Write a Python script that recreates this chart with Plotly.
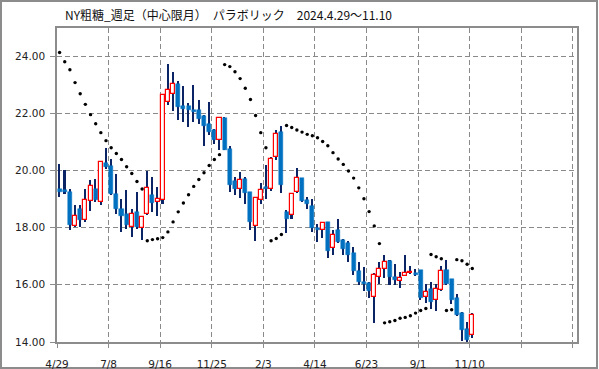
import plotly.graph_objects as go
import pandas as pd

# ---- data (weekly, 2024-04-29 .. 2025-11-10) ----
start_date = "2024-04-29"
opens = [19.36, 19.30, 19.23, 18.07, 18.66, 18.28, 18.94, 19.34, 18.90, 20.25,
         20.14, 19.16, 18.66, 18.49, 18.02, 18.53, 18.00, 18.49, 19.13, 18.90,
         18.95, 22.39, 22.68, 23.01, 22.24, 22.24, 22.10, 22.12, 21.89, 21.61,
         21.40, 21.08, 21.82, 20.76, 19.62, 19.35, 19.69, 19.23, 18.07, 18.98,
         19.42, 19.36, 20.47, 21.34, 18.53, 18.45, 19.25, 19.72, 18.98, 18.74,
         18.00, 17.93, 18.19, 17.30, 17.91, 17.56, 17.45, 17.11, 16.50, 16.10,
         16.08, 15.57, 16.27, 16.57, 16.82, 16.29, 16.13, 16.32, 16.40, 16.43,
         16.51, 15.57, 15.84, 15.48, 15.83, 16.51, 16.19, 15.54, 15.02, 14.47,
         14.26]
highs = [20.24, 20.00, 19.34, 18.79, 18.78, 19.36, 19.65, 19.71, 20.33, 20.78,
         20.41, 19.89, 19.01, 19.30, 18.66, 19.24, 18.40, 19.97, 19.77, 19.42,
         22.68, 23.71, 23.44, 23.13, 22.94, 22.35, 23.00, 22.47, 21.95, 22.39,
         21.45, 21.87, 21.85, 20.85, 19.77, 19.95, 19.77, 19.25, 19.05, 19.57,
         20.18, 20.47, 21.40, 21.55, 18.63, 19.20, 20.10, 19.75, 19.07, 19.00,
         18.11, 18.20, 18.20, 17.91, 18.29, 17.60, 17.53, 17.32, 16.81, 16.62,
         16.10, 16.41, 16.80, 17.03, 16.85, 16.74, 16.45, 17.05, 16.65, 16.54,
         16.52, 16.02, 16.10, 16.04, 16.65, 16.86, 16.20, 15.69, 15.05, 14.70,
         15.02]
lows = [19.07, 19.18, 17.93, 18.02, 18.02, 18.20, 18.58, 18.90, 18.78, 20.05,
        19.15, 18.49, 17.85, 17.96, 17.67, 17.95, 17.55, 18.45, 18.55, 18.41,
        18.84, 22.28, 22.08, 21.75, 21.69, 21.52, 21.69, 21.64, 20.85, 21.25,
        20.94, 20.70, 20.70, 19.25, 19.13, 19.04, 18.84, 17.91, 17.53, 18.84,
        18.99, 19.28, 20.35, 19.21, 17.81, 18.31, 19.20, 18.90, 18.66, 17.85,
        17.50, 17.65, 16.95, 17.04, 17.45, 17.03, 16.80, 16.33, 16.01, 15.78,
        15.54, 14.67, 16.02, 16.25, 16.00, 16.00, 15.90, 16.30, 16.38, 16.30,
        15.46, 15.35, 15.15, 15.08, 15.80, 16.00, 15.34, 14.90, 14.02, 14.00,
        14.15]
closes = [19.25, 19.24, 18.10, 18.39, 18.25, 18.98, 19.44, 18.95, 20.31, 20.12,
          19.17, 18.65, 18.41, 18.08, 18.46, 18.01, 18.38, 19.37, 18.87, 19.01,
          22.65, 22.80, 23.01, 22.22, 22.15, 22.10, 22.03, 21.80, 21.55, 21.34,
          21.08, 21.82, 20.73, 19.50, 19.35, 19.65, 19.21, 18.20, 19.02, 19.33,
          19.36, 20.41, 21.29, 19.50, 18.30, 19.19, 19.72, 18.93, 18.83, 18.00,
          17.93, 18.17, 17.18, 17.75, 17.50, 17.24, 17.03, 16.48, 16.10, 16.02,
          15.78, 16.36, 16.57, 16.81, 16.27, 16.18, 16.25, 16.43, 16.45, 16.33,
          15.54, 15.75, 15.41, 15.87, 16.47, 16.04, 15.48, 14.93, 14.41, 14.06,
          14.96]
sar = [24.12, 23.80, 23.52, 23.07, 22.68, 22.31, 21.95, 21.63, 21.32, 21.04,
       20.79, 20.59, 20.38, 20.13, 19.89, 19.61, 19.35, 17.54, 17.58, 17.61,
       17.65, 17.85, 18.20, 18.55, 18.86, 19.15, 19.44, 19.68, 19.92, 20.17,
       20.38, 20.55, 23.70, 23.63, 23.45, 23.21, 22.87, 22.48, 21.92, 21.32,
       20.79, 17.54, 17.62, 17.76, 21.57, 21.50, 21.41, 21.34, 21.26, 21.21,
       21.14, 21.01, 20.86, 20.62, 20.40, 20.21, 19.98, 19.73, 19.39, 19.01,
       18.56, 18.06, 17.44, 14.67, 14.71, 14.75, 14.83, 14.86, 14.92, 15.01,
       15.10, 15.17, 17.06, 16.98, 16.91, 15.10, 15.13, 16.88, 16.84, 16.72,
       16.57]
tick_labels = ["4/29", "7/8", "9/16", "11/25", "2/3", "4/14", "6/23", "9/1", "11/10", "", ""]
title_text = "NY粗糖_週足（中心限月）　パラボリック　2024.4.29〜11.10"

# ---- build ----
week_starts = pd.date_range(start_date, periods=len(opens), freq="7D")
centers = list(week_starts + pd.Timedelta(hours=84))  # centre of each weekly slot
tick_dates = pd.date_range(start_date, periods=len(tick_labels), freq="70D")
x_end = pd.Timestamp(start_date) + pd.Timedelta(days=7 * 100.8)

WEEK_MS = 7 * 86400000
bar_w = 0.78 * WEEK_MS
wick_w = 0.30 * WEEK_MS

up_x, up_base, up_h = [], [], []
dn_x, dn_base, dn_h = [], [], []
for c, o, cl in zip(centers, opens, closes):
    if cl >= o:
        up_x.append(c); up_base.append(o); up_h.append(max(cl - o, 0.02))
    else:
        dn_x.append(c); dn_base.append(cl); dn_h.append(o - cl)

fig = go.Figure()
fig.add_trace(go.Bar(x=centers, y=[h - l for h, l in zip(highs, lows)], base=lows,
                     width=wick_w, marker=dict(color="#0b2465", line=dict(width=0)),
                     hoverinfo="skip", showlegend=False))
fig.add_trace(go.Bar(x=dn_x, y=dn_h, base=dn_base, width=bar_w,
                     marker=dict(color="#0070C0", line=dict(color="#0070C0", width=0.5)),
                     showlegend=False))
fig.add_trace(go.Bar(x=up_x, y=up_h, base=up_base, width=bar_w,
                     marker=dict(color="white", line=dict(color="#FF0000", width=1.2)),
                     showlegend=False))
fig.add_trace(go.Scatter(x=centers, y=sar, mode="markers",
                         marker=dict(symbol="circle", size=3.4, color="black",
                                     line=dict(width=0)),
                         showlegend=False))

L, R, T, B = 57, 22, 28, 27
W, H = 599, 369
pw, ph = W - L - R, H - T - B

fig.update_layout(
    width=W, height=H,
    margin=dict(l=L, r=R, t=T, b=B, pad=0, autoexpand=False),
    paper_bgcolor="white", plot_bgcolor="white",
    barmode="overlay", bargap=0,
    font=dict(family="DejaVu Sans", size=10.5, color="#222222"),
    xaxis=dict(type="date", range=[pd.Timestamp(start_date), x_end],
               tickvals=list(tick_dates), ticktext=tick_labels, automargin=False,
               showgrid=True, gridcolor="#8a8a8a", griddash="5px,3px", gridwidth=1,
               showline=True, linecolor="#8c8c8c", linewidth=1.5, mirror=True,
               ticks="outside", ticklen=4, tickcolor="#8c8c8c",
               ticklabelstandoff=8, zeroline=False),
    yaxis=dict(range=[14, 14 + ph / 28.6], tickvals=[14, 16, 18, 20, 22, 24],
               tickformat=".2f", automargin=False,
               showgrid=True, gridcolor="#8a8a8a", griddash="5px,3px", gridwidth=1,
               showline=True, linecolor="#8c8c8c", linewidth=1.5, mirror=True,
               ticks="outside", ticklen=5, tickcolor="#8c8c8c",
               ticklabelstandoff=3, zeroline=False),
    shapes=[dict(type="rect", xref="paper", yref="paper",
                 x0=(1 - L) / pw, x1=(597 - L) / pw,
                 y0=(ph + T - 368) / ph, y1=(ph + T - 1) / ph,
                 line=dict(color="#8c8c8c", width=2), fillcolor="rgba(0,0,0,0)",
                 layer="below")],
    annotations=[dict(text=title_text, xref="paper", yref="paper",
                      x=(63 - L) / pw, y=(ph + T - 15) / ph,
                      xanchor="left", yanchor="middle", showarrow=False,
                      font=dict(family="Noto Sans CJK JP", size=12, color="#111111"))],
)

fig.write_html("out.html", config={"displayModeBar": False},
               post_script="document.body.style.margin='0';document.body.style.overflow='hidden';")
